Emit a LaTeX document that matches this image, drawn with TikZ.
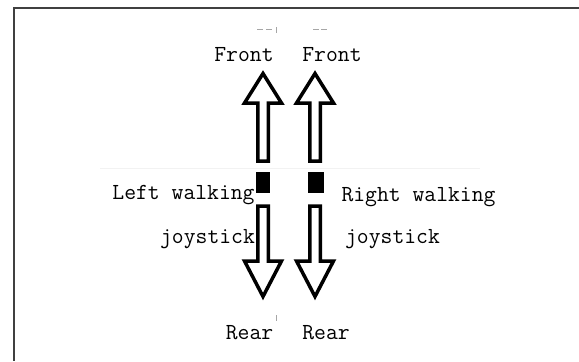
\documentclass[tikz,border=0pt]{standalone}
\usepackage{fontspec}
\begin{document}
\begin{tikzpicture}[x=1bp,y=-1bp,
  lbl/.style={inner sep=0pt, anchor=base, font=\fontsize{23bp}{27bp}\ttfamily},
  blockarrow/.style={draw=black, line width=3.5bp, fill=white, line join=miter, miter limit=10},
  frameline/.style={draw=black!75, line width=2.6bp},
  blk/.style={fill=black, draw=none, inner sep=0pt},
  faint/.style={draw=black!35, line width=0.8bp}]
\useasboundingbox (0,0) rectangle (579,361);
% frame
\draw[frameline] (579,8) -- (14,8) -- (14,361);
% faint artefacts
\draw[draw=black!5, line width=0.8bp] (100,168) -- (480,168);
\draw[faint] (257,29) -- (263,29) (266,29) -- (272,29) (276,27) -- (276,33);
\draw[faint] (313,29) -- (319,29) (321,29) -- (327,29);
\draw[faint] (276,315) -- (276,321);
% arrows
\foreach \c in {263,315}{
  \draw[blockarrow] (\c,73.5) -- (\c+18.5,103) -- (\c+5.25,103) -- (\c+5.25,161)
     -- (\c-5.25,161) -- (\c-5.25,103) -- (\c-18.5,103) -- cycle;
  \draw[blockarrow] (\c,296.5) -- (\c+18.5,261) -- (\c+5.25,261) -- (\c+5.25,206)
     -- (\c-5.25,206) -- (\c-5.25,261) -- (\c-18.5,261) -- cycle;
}
% joystick knobs
\node[blk, minimum width=14bp, minimum height=21bp] (knobL) at (263,182.5) {};
\node[blk, minimum width=16bp, minimum height=21bp] (knobR) at (316,182.5) {};
% labels
\node[lbl] (frontL) at (244,61) {Front};
\node[lbl] (frontR) at (332,61) {Front};
\node[lbl] (rearL) at (249.5,339) {Rear};
\node[lbl] (rearR) at (326,339) {Rear};
\node[lbl] (leftA) at (183.5,199.5) {Left walking};
\node[lbl] (leftB) at (207.5,243) {joystick};
\node[lbl] (rightA) at (418.5,201) {Right walking};
\node[lbl] (rightB) at (392.5,243) {joystick};
\end{tikzpicture}
\end{document}
